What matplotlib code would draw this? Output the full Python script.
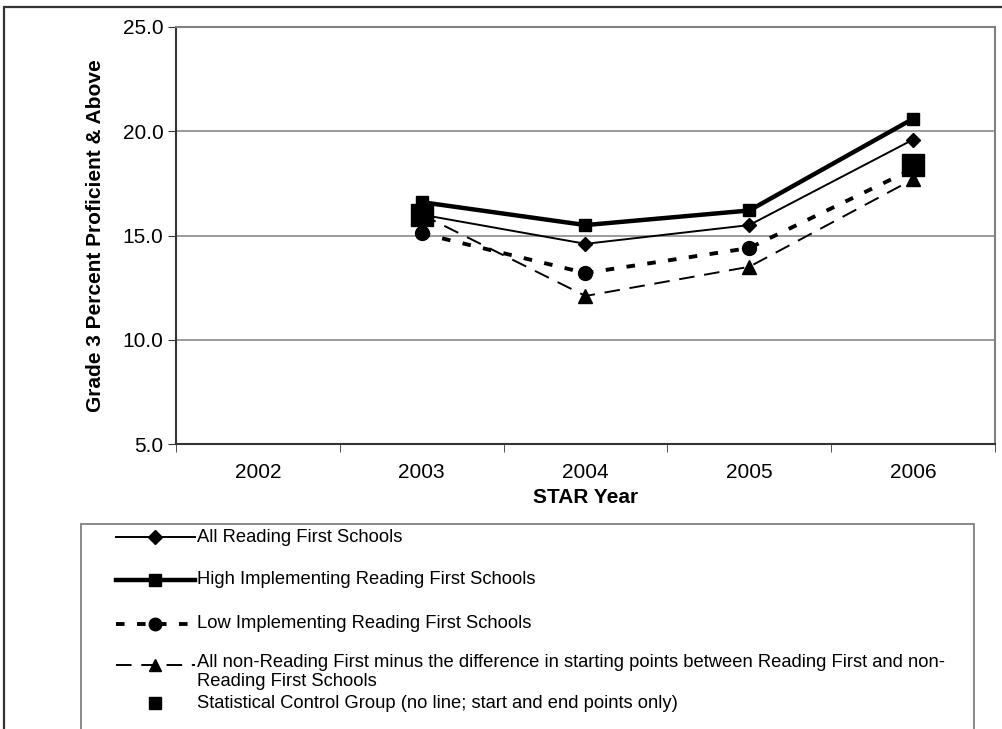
import numpy as np
import matplotlib.pyplot as plt
from matplotlib.lines import Line2D
from matplotlib.patches import Rectangle

# Grade 3 percent proficient & above by STAR year
years = ["2002", "2003", "2004", "2005", "2006"]
all_rf = [np.nan, 16.0, 14.6, 15.5, 19.6]
high_rf = [np.nan, 16.6, 15.5, 16.2, 20.6]
low_rf = [np.nan, 15.1, 13.2, 14.4, 18.2]
non_rf_adj = [np.nan, 16.0, 12.1, 13.5, 17.7]
control = [np.nan, 16.0, np.nan, np.nan, 18.4]

legend_labels = [
    "All Reading First Schools",
    "High Implementing Reading First Schools",
    "Low Implementing Reading First Schools",
    "All non-Reading First minus the difference in starting points between Reading First and non-\nReading First Schools",
    "Statistical Control Group (no line; start and end points only)",
]

W, H = 1003, 729
plt.rcParams['font.family'] = ['Liberation Sans', 'DejaVu Sans']
fig = plt.figure(figsize=(W / 100, H / 100), dpi=100)

def fx(px):
    return px / W

def fy(py):
    return 1 - py / H

ax = fig.add_axes([fx(176), fy(444), fx(995) - fx(176), fy(27) - fy(444)])
x = np.arange(len(years))

styles = [
    dict(color="black", lw=1.4, ls="-", marker="D", ms=7),
    dict(color="black", lw=3.2, ls="-", marker="s", ms=9),
    dict(color="black", lw=2.8, ls=(0, (2.2, 3.2)), marker="o", ms=10),
    dict(color="black", lw=1.4, ls=(0, (8, 5)), marker="^", ms=10),
    dict(color="black", lw=0, ls="none", marker="s", ms=16),
]
for vals, st in zip([non_rf_adj, low_rf, all_rf, high_rf], [styles[3], styles[2], styles[0], styles[1]]):
    ax.plot(x, vals, **st, zorder=3)
ax.plot(x, control, **styles[4], zorder=4)

ax.set_xlim(-0.5, len(years) - 0.5)
ax.set_ylim(5, 25)
ax.set_yticks([5, 10, 15, 20, 25])
ax.set_yticklabels([f"{v:.1f}" for v in [5, 10, 15, 20, 25]], fontsize=15)
ax.set_xticks(x)
ax.set_xticklabels(years, fontsize=15)
ax.set_xticks(np.arange(-0.5, len(years)), minor=True)
ax.tick_params(axis="x", which="major", length=0, pad=14)
ax.tick_params(axis="x", which="minor", length=6, direction="out", color="#333333")
ax.tick_params(axis="y", length=6, direction="out", color="#333333", pad=3)
ax.grid(axis="y", color="#808080", lw=1.1)
ax.set_axisbelow(True)
for side in ["top", "right"]:
    ax.spines[side].set_color("#808080")
    ax.spines[side].set_linewidth(1.5)
for side in ["left", "bottom"]:
    ax.spines[side].set_color("#333333")
    ax.spines[side].set_linewidth(1.5)

ax.set_xlabel("STAR Year", fontsize=15, fontweight="bold", labelpad=4)
ax.set_ylabel("Grade 3 Percent Proficient & Above", fontsize=15, fontweight="bold", labelpad=13)

# outer chart frame
fig.add_artist(Rectangle((fx(4), fy(740)), fx(1010) - fx(4), fy(7) - fy(740),
                         transform=fig.transFigure, fill=False, ec="#333333", lw=1.6))

# legend box
fig.add_artist(Rectangle((fx(81), fy(740)), fx(974) - fx(81), fy(524) - fy(740),
                         transform=fig.transFigure, fill=False, ec="#808080", lw=1.3))

rows = [537, 580, 624, 665, 703]
for i, (row, st, lab) in enumerate(zip(rows, styles, legend_labels)):
    if i < 4:
        fig.add_artist(Line2D([fx(116), fx(195)], [fy(row), fy(row)], transform=fig.transFigure,
                              color="black", lw=st["lw"], ls=st["ls"]))
    fig.add_artist(Line2D([fx(155)], [fy(row)], transform=fig.transFigure, color="black",
                          marker=st["marker"], ms=min(st["ms"], 9) if i < 4 else 9, ls="none"))
    if i == 3:
        fig.text(fx(197), fy(row - 11), lab, fontsize=13.2, va="top", ha="left", linespacing=1.15)
    else:
        fig.text(fx(197), fy(row), lab, fontsize=13.2, va="center", ha="left")

fig.savefig("out.png", dpi=100)
